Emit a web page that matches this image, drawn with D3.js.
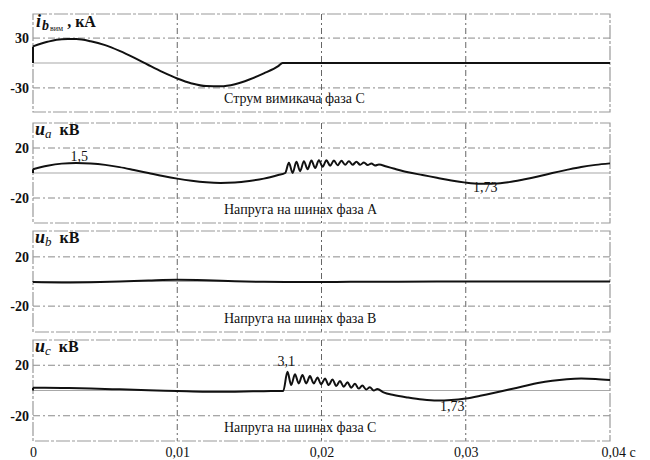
<!DOCTYPE html>
<html>
<head>
<meta charset="UTF-8">
<title>Document</title>
</head>
<body style="margin:0">
<svg class="chart"></svg>
<script src="https://cdn.jsdelivr.net/npm/d3@7"></script>
<script>
// time axis
const xTicks = [0, 0.01, 0.02, 0.03, 0.04];
const xTickLabels = ['0', '0,01', '0,02', '0,03', '0,04 c'];
const yTicksI = [30, -30];
const yTicksU = [20, -20];

// breaker current, phase C (kA) - [t, value]
const ib = [
  [0, 20], [0.001, 25.5], [0.002, 28.7], [0.003, 28.8], [0.004, 26.2], [0.005, 21.5],
  [0.006, 14.6], [0.007, 6.5], [0.008, -2.4], [0.009, -11], [0.010, -18.7], [0.011, -24.6],
  [0.012, -27.8], [0.013, -28], [0.014, -25.5], [0.015, -19.8], [0.016, -12.5], [0.017, -3.8],
  [0.0173, 0], [0.025, 0], [0.04, 0]
];

// bus voltage phase A (kV)
const ua = [
  [0, 3], [0.001, 5.8], [0.002, 7.5], [0.003, 8], [0.004, 7.6], [0.005, 6.5], [0.006, 4.7],
  [0.007, 2.4], [0.008, 0], [0.009, -2.4], [0.010, -4.5], [0.011, -6.2], [0.012, -7.4],
  [0.013, -7.9], [0.014, -7.6], [0.015, -6.4], [0.016, -4.5], [0.017, -1.6], [0.01748, 0],
  [0.01774, 8.2], [0.018, 0], [0.01826, 9], [0.01852, 1.5], [0.01878, 9.5], [0.01904, 3],
  [0.0193, 10], [0.01956, 4], [0.01982, 10.2], [0.02008, 5], [0.02034, 10.2], [0.0206, 5.8],
  [0.02086, 10], [0.02112, 6.2], [0.02138, 9.8], [0.02164, 6.6], [0.0219, 9.4], [0.02216, 6.6],
  [0.02242, 9], [0.02268, 6.6], [0.02294, 8.4], [0.0232, 6.4], [0.02346, 7.6], [0.02372, 6],
  [0.02398, 6.8], [0.0245, 5.2], [0.025, 3.6], [0.0255, 2], [0.026, 0.6], [0.027, -1.6],
  [0.028, -3.8], [0.029, -6], [0.030, -7.7], [0.031, -8.6], [0.032, -8.5], [0.033, -7.3],
  [0.034, -5.2], [0.035, -2.8], [0.036, 0], [0.037, 2.5], [0.038, 4.8], [0.039, 6.5], [0.040, 7.7]
];

// bus voltage phase B (kV)
const ub = [
  [0, -0.5], [0.002, -0.8], [0.004, -0.6], [0.006, 0], [0.008, 0.8], [0.010, 1.4],
  [0.012, 1], [0.014, 0.2], [0.016, -0.3], [0.018, -0.5], [0.020, -0.4], [0.022, -0.3],
  [0.025, -0.2], [0.028, -0.1], [0.030, 0], [0.035, 0], [0.040, 0]
];

// bus voltage phase C (kV)
const uc = [
  [0, 2.2], [0.002, 2], [0.004, 1.6], [0.006, 0.9], [0.008, 0.2], [0.010, -0.4], [0.012, -1],
  [0.014, -0.9], [0.016, -0.5], [0.01735, -0.3],
  [0.01764, 14.8], [0.0179, 4.3], [0.01816, 12.9], [0.01842, 5.6], [0.01868, 12.2], [0.01894, 5.6],
  [0.0192, 11.4], [0.01946, 5.6], [0.01972, 10.2], [0.01998, 4.8], [0.02024, 9.5], [0.0205, 4.3],
  [0.02076, 8.8], [0.02102, 3.6], [0.02128, 7.5], [0.02154, 3], [0.0218, 6.5], [0.02206, 2.2],
  [0.02232, 5.3], [0.02258, 1.5], [0.02283, 4], [0.0231, 0.8], [0.02335, 2.6], [0.02362, 0],
  [0.02387, 1.2], [0.0243, -1.5], [0.025, -3.6], [0.026, -5.6], [0.027, -7.2], [0.028, -8],
  [0.029, -7.6], [0.030, -6.3], [0.031, -4.2], [0.032, -1.8], [0.033, 0.8], [0.034, 3.3],
  [0.035, 5.9], [0.036, 7.8], [0.037, 9], [0.038, 9.5], [0.039, 9.2], [0.040, 8.3]
];

const captions = ['Струм вимикача фаза С', 'Напруга на шинах фаза А', 'Напруга на шинах фаза В', 'Напруга на шинах фаза С'];

// peak annotations (p.u.) - [panel, t, value, text]
const notes = [
  [1, 0.0032, 9.5, '1,5'],
  [1, 0.03135, -15, '1,73'],
  [3, 0.01755, 19.5, '3,1'],
  [3, 0.02907, -16, '1,73']
];

const serif = '"Liberation Serif"';
const svg = d3.select('.chart').attr('width', 650).attr('height', 460);

const x = d3.scaleLinear().domain([0, 0.04]).range([33, 610]);

// panel layout
const panels = [
  { data: ib, top: 14, bottom: 112, lim: 59, ticks: yTicksI },
  { data: ua, top: 123, bottom: 223, lim: 40, ticks: yTicksU },
  { data: ub, top: 231, bottom: 332, lim: 41, ticks: yTicksU },
  { data: uc, top: 340, bottom: 441, lim: 40, ticks: yTicksU }
];

// helper for serif text
const label = (sel, size, weight, italic) => sel
  .style('font-family', serif)
  .style('font-size', size + 'px')
  .style('font-weight', weight || 'normal')
  .style('font-style', italic ? 'italic' : 'normal')
  .attr('fill', '#111');

panels.forEach((p, i) => {
  p.y = d3.scaleLinear().domain([-p.lim, p.lim]).range([p.bottom, p.top]);
  const g = svg.append('g').attr('class', 'panel' + i);

  // horizontal grid
  g.selectAll('.hgrid').data(p.ticks).enter().append('line')
    .attr('x1', x(0)).attr('x2', x(0.04))
    .attr('y1', d => p.y(d)).attr('y2', d => p.y(d))
    .attr('stroke', '#8a8a8a').attr('stroke-width', 1)
    .attr('stroke-dasharray', '7,3,2,3');

  // zero line
  g.append('line')
    .attr('x1', x(0)).attr('x2', x(0.04))
    .attr('y1', p.y(0)).attr('y2', p.y(0))
    .attr('stroke', '#a8a8a8').attr('stroke-width', 1.2);

  // vertical grid
  g.selectAll('.vgrid').data([0.01, 0.02, 0.03]).enter().append('line')
    .attr('x1', d => x(d)).attr('x2', d => x(d))
    .attr('y1', p.top).attr('y2', p.bottom)
    .attr('stroke', '#666').attr('stroke-width', 1)
    .attr('stroke-dasharray', '6,3,2,3');

  // frame
  g.append('rect')
    .attr('x', x(0)).attr('y', p.top)
    .attr('width', x(0.04) - x(0)).attr('height', p.bottom - p.top)
    .attr('fill', 'none').attr('stroke', '#999').attr('stroke-width', 1.2)
    .attr('stroke-dasharray', '14,2,3,2');

  // y axis labels
  const yAxis = d3.axisLeft(p.y).tickValues(p.ticks).tickFormat(d => String(d)).tickSize(0).tickPadding(4);
  const ya = g.append('g').attr('transform', `translate(${x(0)},0)`).call(yAxis);
  ya.select('.domain').remove();
  label(ya.selectAll('text'), 14, 'bold');

  // step at t = 0
  g.append('line')
    .attr('x1', x(0)).attr('x2', x(0))
    .attr('y1', p.y(0)).attr('y2', p.y(p.data[0][1]))
    .attr('stroke', '#111').attr('stroke-width', 2);

  // trace
  const line = d3.line().x(d => x(d[0])).y(d => p.y(d[1])).curve(d3.curveMonotoneX);
  g.append('path').datum(p.data)
    .attr('d', line)
    .attr('fill', 'none').attr('stroke', '#111').attr('stroke-width', 2)
    .attr('stroke-linejoin', 'round');

  // caption
  label(g.append('text').attr('x', 224).attr('y', p.bottom - 9), 14).text(captions[i]);
});

// panel titles
const t0 = svg.append('text').attr('y', 27);
label(t0.append('tspan').attr('x', 36), 18, 'bold', true).text('i');
label(t0.append('tspan').attr('dy', 3).attr('dx', 1), 14, 'bold', true).text('b');
label(t0.append('tspan').attr('dy', 1).attr('dx', 1), 8).text('вим');
label(t0.append('tspan').attr('dy', -4).attr('dx', 4), 16, 'bold').text(', кА');

['a', 'b', 'c'].forEach((s, k) => {
  const p = panels[k + 1];
  const t = svg.append('text').attr('y', p.top + 12);
  label(t.append('tspan').attr('x', 35), 18, 'bold', true).text('u');
  label(t.append('tspan').attr('dy', 3), 13, 'normal', true).text(s);
  label(t.append('tspan').attr('dy', -3).attr('dx', 8), 16, 'bold').text('кВ');
});

// annotations
notes.forEach(n => {
  const p = panels[n[0]];
  label(svg.append('text')
    .attr('x', x(n[1])).attr('y', p.y(n[2]))
    .attr('text-anchor', 'middle'), 14)
    .text(n[3]);
});

// x axis labels
const xAxis = d3.axisBottom(x).tickValues(xTicks).tickFormat((d, i) => xTickLabels[i]).tickSize(0).tickPadding(6);
const xa = svg.append('g').attr('transform', `translate(0,${panels[3].bottom})`).call(xAxis);
xa.select('.domain').remove();
label(xa.selectAll('text'), 14);
xa.selectAll('.tick').filter((d, i) => i === xTicks.length - 1).select('text')
  .attr('text-anchor', 'start').attr('x', -9);
</script>
</body>
</html>
